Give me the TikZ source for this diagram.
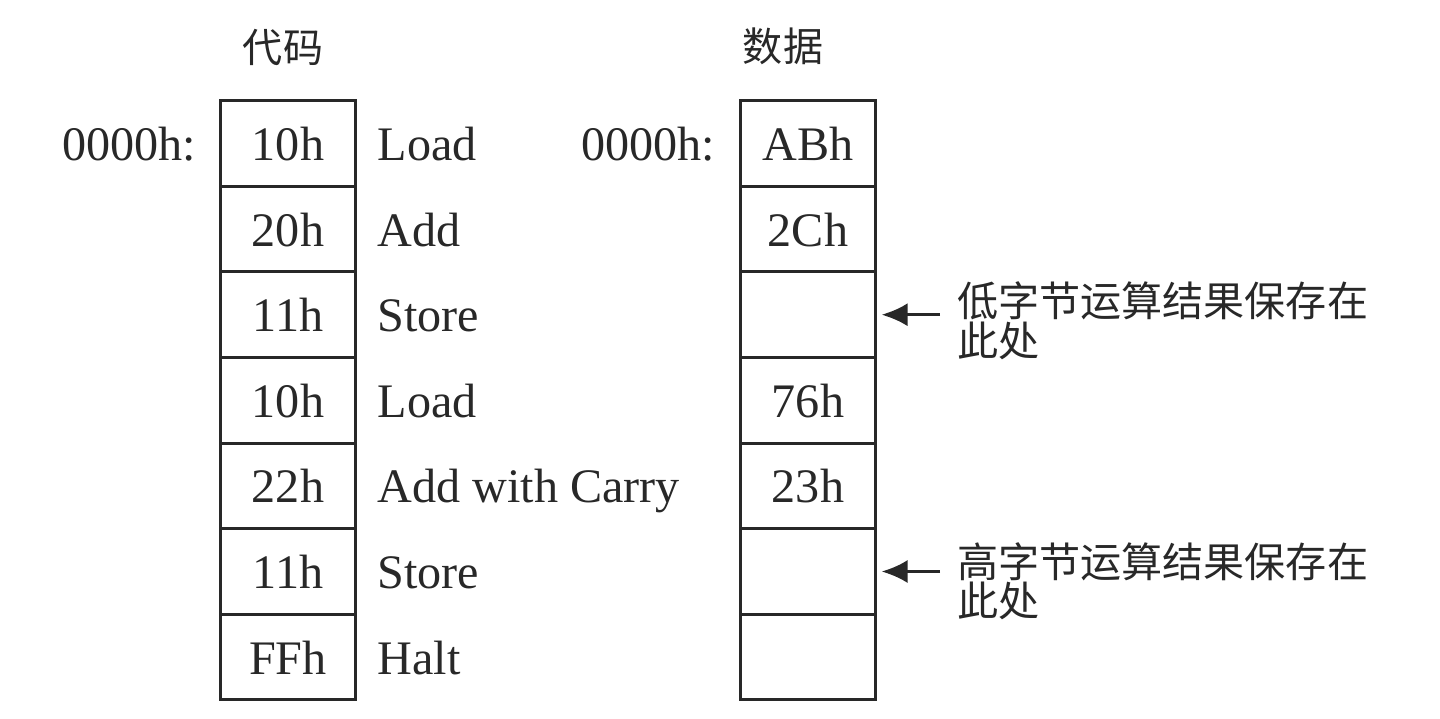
\documentclass[tikz,border=0pt]{standalone}
\usepackage{fontspec}
\setmainfont{Liberation Serif}
\newfontfamily\cjk{Noto Sans CJK SC}
\usetikzlibrary{positioning,arrows.meta}
\definecolor{ink}{RGB}{40,40,40}
\newcommand\notefont{\cjk\fontsize{11.7}{11.2}\selectfont\lineskiplimit-6pt\relax}
\begin{document}
\begin{tikzpicture}[
		cell/.style={draw=ink, line width=0.85pt, minimum width=1.35cm, minimum height=0.856cm, inner sep=0pt, outer sep=0pt, text=ink, text height=0.34cm, text depth=0pt, font=\fontsize{13.7}{16}\selectfont},
		lbl/.style={inner sep=0pt, text=ink, text height=0.34cm, text depth=0pt, font=\fontsize{13.7}{16}\selectfont},
		head/.style={text=ink, font=\cjk\fontsize{11.4}{12}\selectfont},
		note/.style={align=left, inner xsep=0.17cm, inner ysep=0pt, outer sep=0pt, text=ink, font=\notefont},
		ptr/.style={draw=ink, line width=0.9pt, -{Latex[length=2.6mm,width=2.3mm]}, shorten >=0.06cm}
	]
		\useasboundingbox (0,0) rectangle (14.4,-7.18);
		\begin{scope}
		\node[head] (codehead) at (2.83,-0.48) {代码};
		\foreach \val/\op [count=\i] in {10h/Load,20h/Add,11h/Store,10h/Load,22h/Add with Carry,11h/Store,FFh/Halt}
		{
			\node[cell] (c\i) at (2.88,-0.579-0.856*\i) {\val};
			\node[lbl, anchor=west] (op\i) at (3.77,-0.579-0.856*\i) {\op};
		}
		\node[lbl, anchor=east] (caddr) at (1.97,-1.435) {0000h:};
		\end{scope}
		\begin{scope}
		\node[head] (datahead) at (7.83,-0.46) {数据};
		\foreach \val [count=\i] in {ABh,2Ch,{},76h,23h,{},{}}
		{
			\node[cell] (d\i) at (8.08,-0.579-0.856*\i) {\val};
		}
		\node[lbl, anchor=east] (daddr) at (7.16,-1.435) {0000h:};
		\node[note, right=0.645cm of d3, yshift=-0.06cm] (low) {低字节运算结果保存在\\此处};
		\node[note, right=0.645cm of d6, yshift=-0.1cm] (high) {高字节运算结果保存在\\此处};
		\draw[ptr] (d3 -| low.west) -- (d3);
		\draw[ptr] (d6 -| high.west) -- (d6);
		\end{scope}
\end{tikzpicture}
\end{document}
